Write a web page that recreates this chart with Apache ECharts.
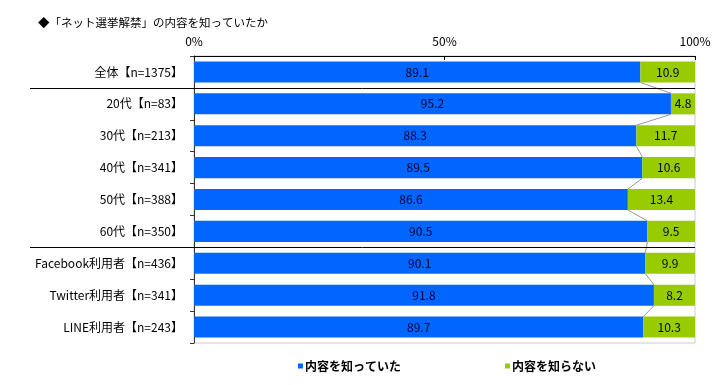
<!DOCTYPE html>
<html><head><meta charset="utf-8">
<script src="https://cdn.jsdelivr.net/npm/echarts@6/dist/echarts.min.js"></script>
<style>html,body{margin:0;padding:0;background:#fff}#c{width:721px;height:385px}</style>
</head><body><div id="c"></div>
<script>
const categories = ['全体【n=1375】','20代【n=83】','30代【n=213】','40代【n=341】','50代【n=388】','60代【n=350】','Facebook利用者【n=436】','Twitter利用者【n=341】','LINE利用者【n=243】'];
const knew = [89.1, 95.2, 88.3, 89.5, 86.6, 90.5, 90.1, 91.8, 89.7];
const notKnew = [10.9, 4.8, 11.7, 10.6, 13.4, 9.5, 9.9, 8.2, 10.3];
const separatorAfter = [0, 5];
const xTicks = [0, 50, 100];
const seriesNames = ['内容を知っていた', '内容を知らない'];

const FONT = '"Noto Sans CJK JP", "Noto Sans", sans-serif';
const chart = echarts.init(document.getElementById('c'));
const barRatio = 0.66;

chart.setOption({
  animation: false,
  textStyle: { fontFamily: FONT },
  title: {
    text: '◆「ネット選挙解禁」の内容を知っていたか',
    left: 33, top: 12,
    textStyle: { fontSize: 11.5, fontWeight: 'normal', color: '#000', fontFamily: FONT }
  },
  legend: {
    data: seriesNames,
    left: 293, top: 355,
    itemWidth: 5, itemHeight: 5, itemGap: 104,
    icon: 'rect',
    textStyle: { fontSize: 12, fontWeight: 'bold', color: '#000', fontFamily: FONT, padding: [0, 0, 0, -3] }
  },
  grid: { left: 194, right: 26, top: 56, bottom: 42, show: true, borderColor: '#cccccc', borderWidth: 1 },
  xAxis: {
    type: 'value', position: 'top', min: xTicks[0], max: xTicks[xTicks.length - 1], interval: 50,
    axisLine: { show: true, lineStyle: { color: '#000', width: 1 } },
    axisTick: { show: true, inside: true, length: 4, lineStyle: { color: '#000' } },
    splitLine: { show: false },
    axisLabel: { formatter: '{value}%', fontSize: 12, color: '#000', margin: 9, fontFamily: FONT }
  },
  yAxis: {
    type: 'category', inverse: true, data: categories,
    axisLine: { show: true, lineStyle: { color: '#333', width: 1 } },
    axisTick: { show: true, length: 4, lineStyle: { color: '#333' } },
    axisLabel: { fontSize: 12, color: '#000', margin: 11, fontFamily: FONT }
  },
  series: [
    {
      name: seriesNames[0], type: 'bar', stack: 'a', data: knew, barWidth: '66%',
      itemStyle: { color: '#0066ff' },
      label: { show: true, position: 'inside', color: '#000033', fontSize: 12, fontFamily: FONT, formatter: p => p.value.toFixed(1) }
    },
    {
      name: seriesNames[1], type: 'bar', stack: 'a', data: notKnew, barWidth: '66%',
      itemStyle: { color: '#99cc00' },
      label: { show: true, position: 'inside', color: '#000033', fontSize: 12, fontFamily: FONT, formatter: p => p.value.toFixed(1) }
    },
    {
      type: 'custom', silent: true, clip: false, z: 5,
      data: knew.slice(0, knew.length - 1).map((v, i) => [v, i, knew[i + 1], i + 1]),
      renderItem: function (params, api) {
        const a = api.coord([api.value(0), api.value(1)]);
        const b = api.coord([api.value(2), api.value(3)]);
        const half = api.size([0, 1])[1] * barRatio / 2;
        const children = [{
          type: 'line',
          shape: { x1: a[0], y1: a[1] + half, x2: b[0], y2: b[1] - half },
          style: { stroke: '#999', lineWidth: 1 }
        }];
        const idx = api.value(1);
        if (separatorAfter.indexOf(idx) >= 0) {
          const yb = (a[1] + b[1]) / 2;
          const right = api.coord([xTicks[xTicks.length - 1], 0])[0];
          children.push({
            type: 'line',
            shape: { x1: 30, y1: Math.round(yb) + 0.5, x2: right, y2: Math.round(yb) + 0.5 },
            style: { stroke: '#000', lineWidth: 1 }
          });
        }
        return { type: 'group', children: children };
      }
    }
  ]
});
</script></body></html>
